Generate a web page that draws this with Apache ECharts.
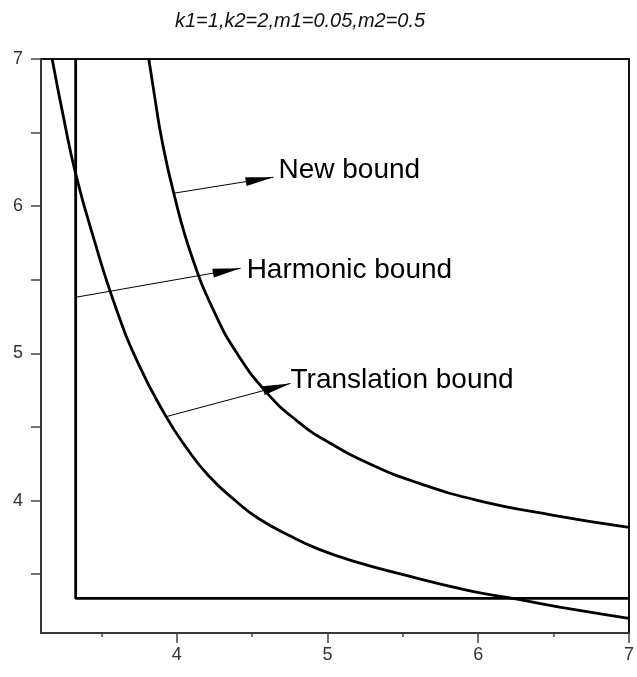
<!DOCTYPE html>
<html>
<head>
<meta charset="utf-8">
<script src="https://cdn.jsdelivr.net/npm/echarts@6/dist/echarts.min.js"></script>
<style>
  html, body { margin: 0; padding: 0; background: #fff; }
  #chart { width: 637px; height: 677px; }
</style>
</head>
<body>
<div id="chart"></div>
<script>
// Axis ranges and tick positions
const xRange = [3.1, 7];
const yRange = [3.1, 7];
const xMajorTicks = [4, 5, 6, 7];
const xMinorTicks = [3.5, 4.5, 5.5, 6.5];
const yTicks = [3.5, 4, 4.5, 5, 5.5, 6, 6.5, 7];
const yLabels = [4, 5, 6, 7];

const titleText = 'k1=1,k2=2,m1=0.05,m2=0.5';

// Outer curve (new bound)
const newBound = [
  [3.815, 7.0], [3.85, 6.77], [3.9, 6.46], [3.98, 6.09], [4.1, 5.66],
  [4.25, 5.28], [4.4, 5.0], [4.6, 4.73], [4.8, 4.54], [5.0, 4.40],
  [5.3, 4.24], [5.6, 4.12], [6.0, 4.0], [6.5, 3.9], [7.0, 3.818]
];

// Inner curve (translation bound)
const translationBound = [
  [3.174, 7.0], [3.25, 6.6], [3.33, 6.22], [3.45, 5.78], [3.6, 5.3],
  [3.75, 4.92], [3.93, 4.57], [4.05, 4.38], [4.21, 4.17], [4.4, 3.99],
  [4.54, 3.88], [4.75, 3.76], [4.94, 3.67], [5.2, 3.58], [5.47, 3.505],
  [5.93, 3.39], [6.23, 3.335], [6.66, 3.255], [7.0, 3.2]
];

// Corner lines (harmonic bound)
const harmonicBound = [[3.33, 7.0], [3.33, 3.335], [7.0, 3.335]];

// Annotation arrows: [start, tip]
const arrowNew = [[3.98, 6.088], [4.642, 6.197]];
const arrowHarmonic = [[3.33, 5.381], [4.424, 5.578]];
const arrowTranslation = [[3.93, 4.57], [4.755, 4.796]];

// Annotation text anchors (left-middle)
const labelNew = { text: 'New bound', at: [4.675, 6.245] };
const labelHarmonic = { text: 'Harmonic bound', at: [4.464, 5.565] };
const labelTranslation = { text: 'Translation bound', at: [4.755, 4.816] };

const chart = echarts.init(document.getElementById('chart'));

const curveStyle = { color: '#000', width: 2.8 };
const arrowLine = (pts) => [{ coord: pts[0] }, { coord: pts[1] }];
const textPoint = (lab) => ({
  coord: lab.at,
  symbol: 'circle',
  symbolSize: 0,
  label: {
    show: true,
    position: 'inside',
    formatter: lab.text,
    align: 'left',
    verticalAlign: 'middle',
    color: '#000',
    fontFamily: 'Liberation Sans, Arial, sans-serif',
    fontSize: 28
  }
});

chart.setOption({
  animation: false,
  backgroundColor: '#fff',
  title: {
    text: titleText,
    left: 170,
    top: 6,
    textStyle: {
      fontFamily: 'Liberation Sans, Arial, sans-serif',
      fontStyle: 'italic',
      fontWeight: 'normal',
      fontSize: 20,
      color: '#111'
    }
  },
  grid: {
    left: 41, right: 6, top: 59, bottom: 44,
    show: true, borderColor: '#111', borderWidth: 2, backgroundColor: 'transparent'
  },
  xAxis: [{
    type: 'value', min: xRange[0], max: xRange[1],
    axisLine: { show: true, onZero: false, lineStyle: { color: '#444', width: 1.5 } },
    axisTick: { show: true, customValues: xMajorTicks, length: 10, lineStyle: { color: '#444', width: 1.5 } },
    axisLabel: { customValues: xMajorTicks, margin: 13, color: '#333', fontSize: 18,
      fontFamily: 'Liberation Sans, Arial, sans-serif' },
    splitLine: { show: false }
  }, {
    type: 'value', min: xRange[0], max: xRange[1], position: 'bottom',
    axisLine: { show: false },
    axisTick: { show: true, customValues: xMinorTicks, length: 4, lineStyle: { color: '#444', width: 1.5 } },
    axisLabel: { show: false },
    splitLine: { show: false }
  }],
  yAxis: {
    type: 'value', min: yRange[0], max: yRange[1],
    axisLine: { show: true, onZero: false, lineStyle: { color: '#444', width: 1.5 } },
    axisTick: { show: true, customValues: yTicks, length: 10, lineStyle: { color: '#444', width: 1.5 } },
    axisLabel: { customValues: yLabels, margin: 18, color: '#333', fontSize: 18,
      fontFamily: 'Liberation Sans, Arial, sans-serif' },
    splitLine: { show: false }
  },
  series: [
    {
      type: 'line', name: 'New bound', data: newBound, smooth: 0.5,
      showSymbol: false, lineStyle: curveStyle, z: 3
    },
    {
      type: 'line', name: 'Translation bound', data: translationBound, smooth: 0.5,
      showSymbol: false, lineStyle: curveStyle, z: 3
    },
    {
      type: 'line', name: 'Harmonic bound', data: harmonicBound,
      showSymbol: false, lineStyle: { color: '#000', width: 2.8 }, z: 3,
      markLine: {
        silent: true,
        symbol: ['none', 'triangle'],
        symbolSize: [9, 28],
        symbolOffset: [0, [0, 14]],
        lineStyle: { color: '#000', width: 1, type: 'solid' },
        label: { show: false },
        data: [arrowLine(arrowNew), arrowLine(arrowHarmonic), arrowLine(arrowTranslation)]
      },
      markPoint: {
        silent: true,
        data: [textPoint(labelNew), textPoint(labelHarmonic), textPoint(labelTranslation)]
      }
    }
  ]
});
</script>
</body>
</html>
